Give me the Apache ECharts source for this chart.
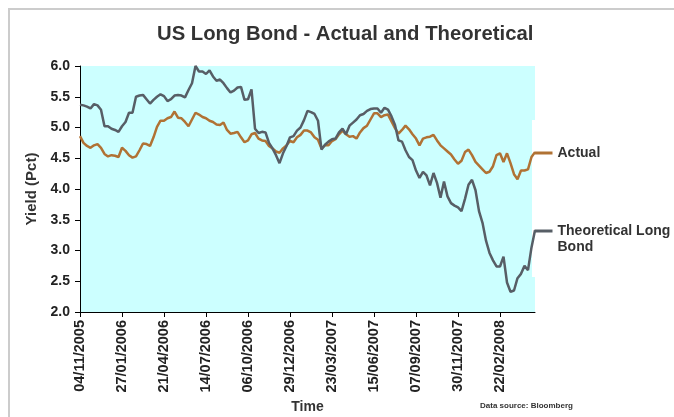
<!DOCTYPE html>
<html>
<head>
<meta charset="utf-8">
<title>US Long Bond - Actual and Theoretical</title>
<script src="https://cdn.jsdelivr.net/npm/echarts@6/dist/echarts.min.js"></script>
<style>
  html, body { margin: 0; padding: 0; background: #fff; }
  #chart { width: 674px; height: 417px; }
</style>
</head>
<body>
<div id="chart"></div>
<script>
// weekly observations starting 04/11/2005
const startDate = Date.UTC(2005, 10, 4)
const weekCount = 131
const categories = []
for (let i = 0; i < weekCount; i++) {
  const d = new Date(startDate + i * 7 * 86400000)
  const dd = String(d.getUTCDate()).padStart(2, '0')
  const mm = String(d.getUTCMonth() + 1).padStart(2, '0')
  categories.push(dd + '/' + mm + '/' + d.getUTCFullYear())
}

// yields (Pct)
const actual = [
  4.86, 4.75, 4.70, 4.67, 4.71, 4.73, 4.67, 4.57, 4.53, 4.55,
  4.54, 4.52, 4.67, 4.62, 4.55, 4.51, 4.53, 4.63, 4.74, 4.73,
  4.70, 4.84, 5.01, 5.11, 5.11, 5.15, 5.17, 5.26, 5.16, 5.15,
  5.09, 5.02, 5.13, 5.24, 5.21, 5.17, 5.15, 5.11, 5.09, 5.05,
  5.04, 5.08, 4.96, 4.90, 4.91, 4.93, 4.84, 4.76, 4.79, 4.89,
  4.91, 4.82, 4.79, 4.78, 4.70, 4.66, 4.61, 4.59, 4.66, 4.71,
  4.78, 4.76, 4.84, 4.88, 4.95, 4.95, 4.92, 4.84, 4.80, 4.66,
  4.71, 4.71, 4.78, 4.81, 4.89, 4.95, 4.89, 4.85, 4.86, 4.82,
  4.92, 4.99, 5.03, 5.13, 5.23, 5.23, 5.17, 5.20, 5.21, 5.10,
  4.99, 4.90, 4.96, 5.03, 4.97, 4.89, 4.82, 4.71, 4.82, 4.84,
  4.85, 4.88, 4.79, 4.71, 4.66, 4.61, 4.56, 4.48, 4.41, 4.46,
  4.60, 4.64, 4.55, 4.44, 4.38, 4.32, 4.26, 4.28, 4.37, 4.55,
  4.58, 4.44, 4.58, 4.42, 4.24, 4.16, 4.30, 4.30, 4.32, 4.52,
  4.60
]

const theoretical = [
  5.37, 5.36, 5.34, 5.31, 5.38, 5.36, 5.29, 5.02, 5.02, 4.98,
  4.96, 4.93, 5.02, 5.09, 5.24, 5.24, 5.50, 5.52, 5.53, 5.46,
  5.39, 5.45, 5.50, 5.54, 5.51, 5.43, 5.46, 5.52, 5.53, 5.52,
  5.49, 5.61, 5.72, 6.00, 5.91, 5.91, 5.87, 5.93, 5.83, 5.76,
  5.78, 5.72, 5.64, 5.57, 5.60, 5.65, 5.66, 5.45, 5.46, 5.62,
  4.98, 4.91, 4.93, 4.92, 4.75, 4.66, 4.55, 4.42, 4.58, 4.70,
  4.84, 4.86, 4.95, 5.00, 5.12, 5.27, 5.25, 5.22, 5.11, 4.64,
  4.72, 4.77, 4.81, 4.82, 4.92, 4.98, 4.89, 5.03, 5.08, 5.13,
  5.20, 5.22, 5.27, 5.30, 5.31, 5.31, 5.24, 5.32, 5.29, 5.18,
  5.04, 4.79, 4.77, 4.63, 4.52, 4.47, 4.30, 4.18, 4.28, 4.22,
  4.06, 4.26, 4.10, 3.86, 4.12, 3.88, 3.77, 3.73, 3.70, 3.64,
  3.84, 4.07, 4.15, 3.98, 3.64, 3.45, 3.16, 2.96, 2.84, 2.74,
  2.74, 2.90, 2.48, 2.33, 2.35, 2.55, 2.62, 2.75, 2.68, 3.05,
  3.33
]

const yMin = 2.0
const yMax = 6.0
const yStep = 0.5

const font = '"Liberation Sans", Arial, sans-serif'
const actualColor = '#b07234'
const theoColor = '#575e66'

const chart = echarts.init(document.getElementById('chart'))

// legend entries: line only, no marker
const legendBase = {
  left: 533,
  padding: 0,
  itemWidth: 18,
  itemHeight: 14,
  itemStyle: { opacity: 0 },
  lineStyle: { width: 3 },
  textStyle: { fontFamily: font, fontSize: 14, fontWeight: 'bold', color: '#333', lineHeight: 16 }
}

const option = {
  animation: false,
  backgroundColor: '#fff',
  title: [
    {
      text: 'US Long Bond - Actual and Theoretical',
      left: 157,
      top: 24,
      padding: 0,
      textStyle: { fontFamily: font, fontSize: 20.3, fontWeight: 'bold', color: '#333' }
    }
  ],
  graphic: [
    {
      type: 'rect',
      shape: { x: 9, y: 9, width: 720, height: 460 },
      style: { fill: null, stroke: '#cccccc', lineWidth: 2 },
      silent: true
    },
    {
      type: 'rect',
      z: 1,
      shape: { x: 532, y: 120, width: 150, height: 157 },
      style: { fill: '#fff' },
      silent: true
    },
    {
      type: 'text',
      left: 480,
      top: 402,
      style: { text: 'Data source: Bloomberg', font: 'bold 8px ' + font, fill: '#333' },
      silent: true
    }
  ],
  legend: [
    Object.assign({}, legendBase, {
      data: ['Actual'],
      top: 145
    }),
    Object.assign({}, legendBase, {
      data: ['Theoretical Long Bond'],
      top: 207,
      // blank first line keeps the marker level with the first text line
      formatter: () => ' \nTheoretical Long\nBond'
    })
  ],
  grid: {
    left: 80,
    right: 139,
    top: 66,
    bottom: 105,
    outerBoundsMode: 'none',
    show: true,
    backgroundColor: '#ccffff',
    borderWidth: 0
  },
  xAxis: {
    type: 'category',
    data: categories,
    boundaryGap: false,
    name: 'Time',
    nameLocation: 'middle',
    nameGap: 86,
    nameTextStyle: { fontFamily: font, fontSize: 14, fontWeight: 'bold', color: '#333' },
    axisLine: { lineStyle: { color: '#000', width: 1 } },
    axisTick: { interval: 11, length: 5, lineStyle: { color: '#000' } },
    axisLabel: {
      interval: 11,
      rotate: 90,
      margin: 8,
      fontFamily: font,
      fontSize: 14.5,
      fontWeight: 'bold',
      color: '#222'
    },
    splitLine: { show: false }
  },
  yAxis: {
    type: 'value',
    min: yMin,
    max: yMax,
    interval: yStep,
    name: 'Yield (Pct)',
    nameLocation: 'middle',
    nameGap: 39,
    nameTextStyle: { fontFamily: font, fontSize: 15, fontWeight: 'bold', color: '#333' },
    axisLine: { show: true, lineStyle: { color: '#000', width: 1 } },
    axisTick: { show: true, length: 5, lineStyle: { color: '#000' } },
    axisLabel: {
      margin: 10,
      formatter: (v) => v.toFixed(1),
      fontFamily: font,
      fontSize: 14,
      fontWeight: 'bold',
      color: '#222'
    },
    splitLine: { show: false }
  },
  series: [
    {
      name: 'Actual',
      type: 'line',
      data: actual,
      symbol: 'none',
      z: 3,
      lineStyle: { color: actualColor, width: 2.5 },
      itemStyle: { color: actualColor }
    },
    {
      name: 'Theoretical Long Bond',
      type: 'line',
      data: theoretical,
      symbol: 'none',
      z: 4,
      lineStyle: { color: theoColor, width: 2.5 },
      itemStyle: { color: theoColor }
    }
  ]
}

chart.setOption(option)
</script>
</body>
</html>
